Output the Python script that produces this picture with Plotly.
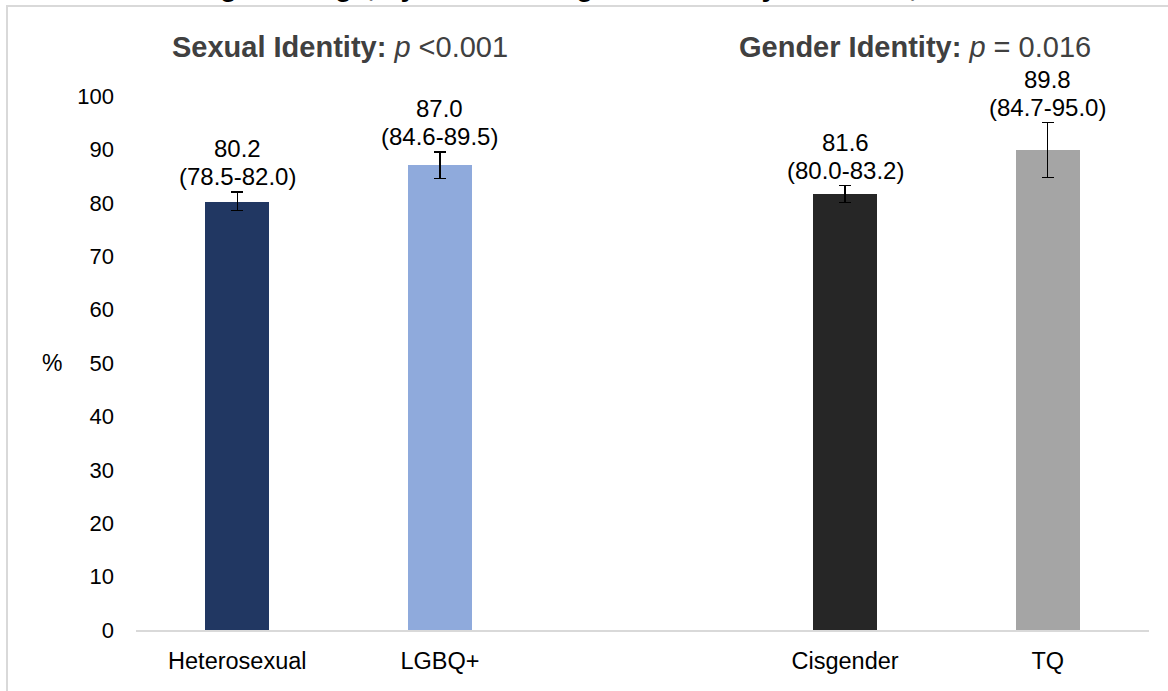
import plotly.graph_objects as go

# ---- data ----
categories = ["Heterosexual", "LGBQ+", "Cisgender", "TQ"]
axis_categories = ["Heterosexual", "LGBQ+", " ", "Cisgender", "TQ"]
values = [80.2, 87.0, 81.6, 89.8]
ci_lower = [78.5, 84.6, 80.0, 84.7]
ci_upper = [82.0, 89.5, 83.2, 95.0]
bar_colors = ["#213762", "#8FAADC", "#262626", "#A5A5A5"]
y_ticks = [0, 10, 20, 30, 40, 50, 60, 70, 80, 90, 100]
group_headers = [
    ("Sexual Identity", "p", "&lt;0.001"),
    ("Gender Identity", "p", "= 0.016"),
]
chart_title = "Cancer screening coverage, by sexual and gender identity \u2013 Canada, 2019"

FONT = "Liberation Sans, Arial, sans-serif"
W, H = 1168, 691
ML, MR, MT, MB = 136, 19, 96, 61
PW = W - ML - MR
PH = H - MT - MB


def px_x(px):
    return (px - ML) / PW


def px_y(py):
    return 1 + (MT - py) / PH


err_plus = [u - v for u, v in zip(ci_upper, values)]
err_minus = [v - l for v, l in zip(values, ci_lower)]

fig = go.Figure()
fig.add_trace(go.Bar(
    x=categories,
    y=values,
    width=[0.315] * len(categories),
    marker=dict(color=bar_colors, line=dict(width=0)),
    error_y=dict(type="data", symmetric=False, array=err_plus, arrayminus=err_minus,
                 color="#000000", thickness=1.3, width=6),
    showlegend=False,
    hoverinfo="skip",
))

annotations = []
for c, v, lo, hi in zip(categories, values, ci_lower, ci_upper):
    annotations.append(dict(
        x=c, y=hi, xref="x", yref="y",
        text=f"({lo:.1f}-{hi:.1f})",
        showarrow=False, yanchor="bottom", yshift=0,
        font=dict(family=FONT, size=24, color="#000000"),
    ))
    annotations.append(dict(
        x=c, y=hi, xref="x", yref="y",
        text=f"{v:.1f}",
        showarrow=False, yanchor="bottom", yshift=28,
        font=dict(family=FONT, size=24, color="#000000"),
    ))

header_x_px = [340, 915]
for (bold, ital, rest), hx in zip(group_headers, header_x_px):
    annotations.append(dict(
        x=px_x(hx), y=px_y(47), xref="paper", yref="paper",
        text=f"<b>{bold}:</b> <i>{ital}</i> {rest}",
        showarrow=False, xanchor="center", yanchor="middle",
        font=dict(family=FONT, size=29, color="#404040"),
    ))

# y-axis title
annotations.append(dict(
    x=px_x(52), y=px_y(363), xref="paper", yref="paper",
    text="%", showarrow=False, xanchor="center", yanchor="middle",
    font=dict(family=FONT, size=23, color="#000000"),
))

# clipped slide title at the very top (only its lower edge is visible)
annotations.append(dict(
    x=px_x(0), y=px_y(4.5), xref="paper", yref="paper",
    text=f"<b>{chart_title}</b>", showarrow=False,
    xanchor="left", yanchor="bottom",
    font=dict(family=FONT, size=28, color="#000000"),
))

shapes = [
    dict(type="line", xref="paper", yref="paper",
         x0=px_x(6), x1=px_x(W), y0=px_y(6), y1=px_y(6),
         line=dict(color="#D9D9D9", width=2)),
    dict(type="line", xref="paper", yref="paper",
         x0=px_x(7), x1=px_x(7), y0=px_y(6), y1=px_y(H),
         line=dict(color="#D9D9D9", width=2)),
]

fig.update_layout(
    width=W, height=H,
    margin=dict(l=ML, r=MR, t=MT, b=MB, pad=0),
    paper_bgcolor="#FFFFFF", plot_bgcolor="#FFFFFF",
    font=dict(family=FONT, color="#000000"),
    annotations=annotations,
    shapes=shapes,
    bargap=0,
    xaxis=dict(
        type="category", categoryorder="array", categoryarray=axis_categories,
        range=[-0.5, 4.5], showgrid=False, zeroline=False,
        showline=True, linecolor="#D9D9D9", linewidth=2,
        ticks="", tickfont=dict(family=FONT, size=23.5, color="#000000"),
        ticklabelstandoff=9, fixedrange=True,
    ),
    yaxis=dict(
        range=[0, 100], tickvals=y_ticks, ticktext=[str(t) for t in y_ticks],
        showgrid=False, zeroline=False, showline=False,
        ticks="", tickfont=dict(family=FONT, size=22, color="#000000"),
        ticklabelstandoff=21, fixedrange=True,
    ),
)

fig.write_html(
    "out.html",
    config={"displayModeBar": False},
    post_script="document.body.style.margin='0';document.body.style.overflow='hidden';",
)
